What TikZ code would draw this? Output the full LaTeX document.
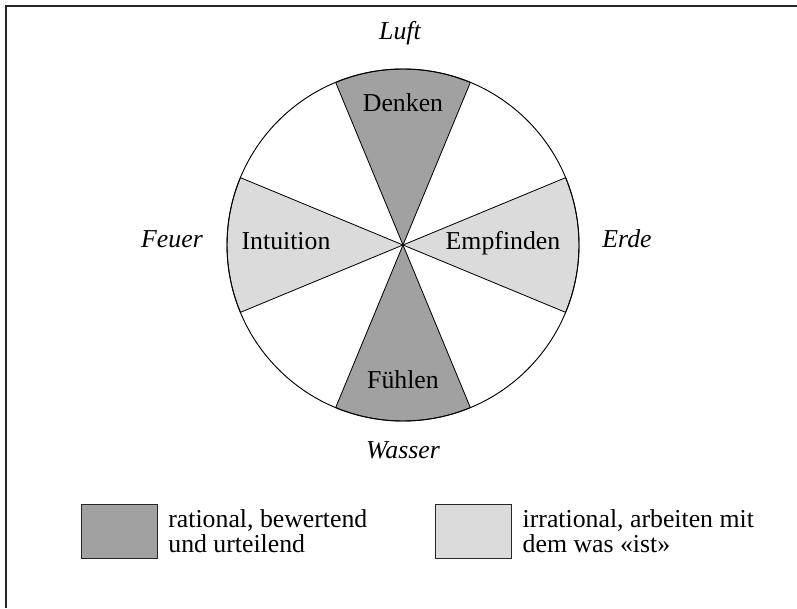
\documentclass[tikz,border=0pt]{standalone}
\usepackage{fontspec}
\setmainfont{Liberation Serif}
\usetikzlibrary{positioning}
\tikzset{
    wedge/.style={draw=black, line width=0.7pt, line join=round},
    darkwedge/.style={wedge, fill=black!37},
    lightwedge/.style={wedge, fill=black!14},
    element/.style={font={\fontsize{22}{21.3}\selectfont\itshape}, anchor=base, inner sep=0pt},
    function/.style={anchor=base, inner sep=0pt},
    keybox/.style={rectangle, draw=black!85, line width=0.8pt,
        minimum width=2.28cm, minimum height=1.62cm, inner sep=0pt},
    keytext/.style={align=left, inner sep=0pt, anchor=west},
}

\begin{document}
\begin{tikzpicture}[x=0.03cm, y=0.03cm, font={\fontsize{22}{21.3}\selectfont}]
    \useasboundingbox (0,0) rectangle (797,608);
    % frame (only top and left edge visible)
    \draw[line width=1.5pt, black!85] (797,602) -- (6,602) -- (6,0);

    % circle of the four functions
    \coordinate (c) at (403,363);
    \fill[white] (c) circle[radius=176];
    \draw[darkwedge] (c) -- ++(67.5:176) arc[start angle=67.5, end angle=112.5, radius=176] -- cycle;
    \draw[darkwedge] (c) -- ++(247.5:176) arc[start angle=247.5, end angle=292.5, radius=176] -- cycle;
    \draw[lightwedge] (c) -- ++(-22.5:176) arc[start angle=-22.5, end angle=22.5, radius=176] -- cycle;
    \draw[lightwedge] (c) -- ++(157.5:176) arc[start angle=157.5, end angle=202.5, radius=176] -- cycle;
    \draw[line width=0.8pt] (c) circle[radius=176];

    \node[function] (denken) at (403,496) {Denken};
    \node[function] (intuition) at (286,359) {Intuition};
    \node[function] (empfinden) at (503,359) {Empfinden};
    \node[function] (fuehlen) at (403,220) {Fühlen};

    \node[element] (luft) at (400,568) {Luft};
    \node[element] (feuer) at (172,360) {Feuer};
    \node[element] (erde) at (627,360) {Erde};
    \node[element] (wasser) at (403,150) {Wasser};

    % legend
    \node[keybox, fill=black!37] (rational) at (119,77) {};
    \node[keytext, right=0.32cm of rational] (rationaltext) {rational, bewertend\\und urteilend};
    \node[keybox, fill=black!14] (irrational) at (473,77) {};
    \node[keytext, right=0.33cm of irrational] (irrationaltext) {irrational, arbeiten mit\\dem was «ist»};
\end{tikzpicture}
\end{document}
